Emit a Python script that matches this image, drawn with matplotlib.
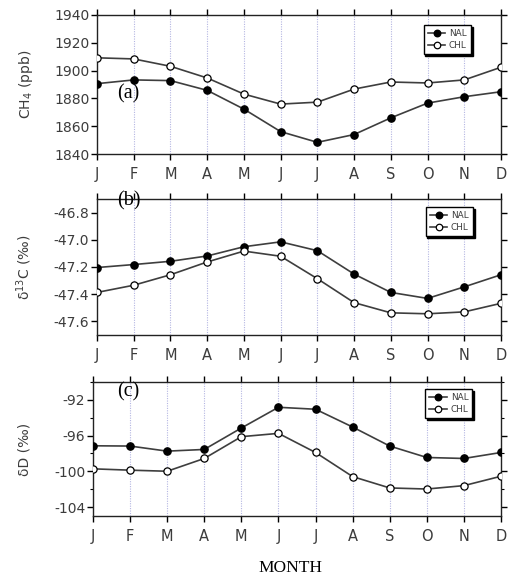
import numpy as np
import matplotlib
matplotlib.use("Agg")
import matplotlib.pyplot as plt
from matplotlib.ticker import MultipleLocator

# ── data ───────────────────────────────────────────────────────────────
months = ["J", "F", "M", "A", "M", "J", "J", "A", "S", "O", "N", "D"]

ch4_nal = [1890.6, 1893.3, 1892.8, 1885.8, 1872.3, 1856.1, 1848.4, 1854.0, 1866.0, 1876.6, 1881.2, 1884.8]
ch4_chl = [1909.2, 1908.4, 1903.1, 1894.7, 1883.1, 1875.9, 1877.3, 1886.7, 1891.8, 1891.1, 1893.3, 1902.4]

d13c_nal = [-47.204, -47.182, -47.158, -47.119, -47.051, -47.015, -47.080, -47.252, -47.387, -47.431, -47.346, -47.257]
d13c_chl = [-47.387, -47.334, -47.257, -47.163, -47.083, -47.121, -47.286, -47.462, -47.537, -47.544, -47.530, -47.467]

dd_nal = [-97.14, -97.17, -97.74, -97.55, -95.15, -92.83, -93.05, -95.04, -97.17, -98.45, -98.56, -97.89]
dd_chl = [-99.72, -99.87, -99.99, -98.56, -96.12, -95.75, -97.89, -100.59, -101.86, -101.98, -101.60, -100.55]

x = np.arange(len(months))

LINE_C = "#3e3e3e"
TEXT_C = "#3c3c3c"

fig = plt.figure(figsize=(5.08, 5.79), dpi=100, facecolor="white")

# axes rectangles in figure fraction (left, bottom, width, height)
rects = [
    (97 / 508, 1 - 154 / 579, 404 / 508, 139 / 579),
    (97 / 508, 1 - 335 / 579, 404 / 508, 136 / 579),
    (93 / 508, 1 - 516 / 579, 408 / 508, 134 / 579),
]

panels = [
    dict(nal=ch4_nal, chl=ch4_chl, ylim=(1840, 1940), major=20, minor=None,
         ylabel="CH$_4$ (ppb)", tag="(a)", tag_xy=(0.05, 0.43), fmt="{:.0f}",
         leg_anchor=(0.925, 0.93), labelpad=14),
    dict(nal=d13c_nal, chl=d13c_chl, ylim=(-47.7, -46.7), major=0.2, minor=None,
         ylabel="δ$^{13}$C (‰)", tag="(b)", tag_xy=(0.05, 0.985), fmt="{:.1f}",
         leg_anchor=(0.93, 0.94), labelpad=14),
    dict(nal=dd_nal, chl=dd_chl, ylim=(-105, -90), major=4, minor=2,
         ylabel="δD (‰)", tag="(c)", tag_xy=(0.058, 0.93), fmt="{:.0f}",
         leg_anchor=(0.93, 0.945), labelpad=16),
]

for rect, p in zip(rects, panels):
    ax = fig.add_axes(rect)

    # vertical dotted month grid
    for xi in x[1:-1]:
        ax.axvline(xi, color="#b4b6e2", lw=0.8, ls=(0, (1, 1.2)), zorder=0)

    ax.plot(x, p["nal"], color=LINE_C, lw=1.2, marker="o", ms=5.2,
            mfc="black", mec="black", label="NAL", zorder=3)
    ax.plot(x, p["chl"], color=LINE_C, lw=1.2, marker="o", ms=5.2,
            mfc="white", mec="black", mew=0.9, label="CHL", zorder=3)

    ax.set_xlim(0, 11)
    ax.set_ylim(*p["ylim"])

    # y ticks: only the multiples inside the range
    lo, hi = p["ylim"]
    step = p["major"]
    first = np.ceil(lo / step - 1e-9) * step
    yt = np.arange(first, hi + 1e-9, step)
    ax.set_yticks(yt)
    ax.set_yticklabels([p["fmt"].format(v) for v in yt])
    if p["minor"]:
        ax.yaxis.set_minor_locator(MultipleLocator(p["minor"]))

    ax.set_xticks(x)
    ax.set_xticklabels(months)

    ax.tick_params(axis="both", which="major", direction="out", length=4.5,
                   width=1.0, color="black", top=True, right=True,
                   labelcolor=TEXT_C)
    ax.tick_params(axis="both", which="minor", direction="out", length=2.5,
                   width=0.8, color="black", right=True)
    ax.tick_params(axis="x", labelsize=10.5, pad=5)
    ax.tick_params(axis="y", labelsize=10, pad=1)

    for s in ax.spines.values():
        s.set_linewidth(1.0)
        s.set_edgecolor("#222222")

    ax.set_ylabel(p["ylabel"], color=TEXT_C, fontsize=10, labelpad=p["labelpad"])

    ax.text(p["tag_xy"][0], p["tag_xy"][1], p["tag"], transform=ax.transAxes,
            family="Liberation Serif", fontsize=14.5, ha="left", va="center",
            color="black", zorder=5)

    leg = ax.legend(loc="upper right", bbox_to_anchor=p["leg_anchor"],
                    fontsize=6.4, frameon=True, fancybox=False,
                    shadow={"color": "black", "alpha": 1.0, "ox": 1.3, "oy": -1.3},
                    edgecolor="black", handlelength=2.0, handletextpad=0.4,
                    borderpad=0.45, labelspacing=0.35, borderaxespad=0.0,
                    markerscale=0.9)
    leg.get_frame().set_linewidth(1.0)
    for t in leg.get_texts():
        t.set_color(TEXT_C)

fig.text(290 / 508, 1 - 568 / 579, "MONTH", family="Liberation Serif",
         fontsize=12.5, ha="center", va="center", color="black")

fig.savefig("out.png", dpi=100)
